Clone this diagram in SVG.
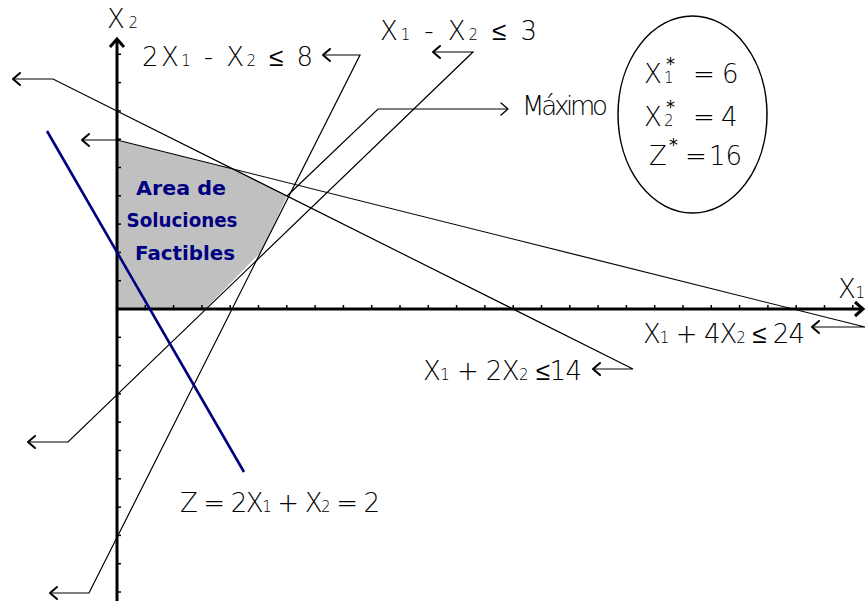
<svg xmlns="http://www.w3.org/2000/svg" width="866" height="601" viewBox="0 0 866 601">
<style>
.lbl{font-family:"DejaVu Sans","Liberation Sans",sans-serif;font-weight:200;font-size:26px;fill:#000}
.sub{font-size:15px}
.star{font-size:18px;font-weight:normal}
.area{font-family:"DejaVu Sans","Liberation Sans",sans-serif;font-weight:bold;font-size:20px;fill:#000080}
.ln{fill:none;stroke:#000;stroke-width:1.2}
.hd{fill:none;stroke:#000;stroke-width:2;stroke-linecap:round;stroke-linejoin:round}
.ax{fill:none;stroke:#000;stroke-width:3}
.tk{stroke:#000;stroke-width:1.5}
</style>
<rect width="866" height="601" fill="#fff"/>
<g id="feasible-region">
<polygon points="117,309 117,140 230,168 287,196 261,252 205,309" fill="#c0c0c0"/>
<text class="area" x="181" y="195" text-anchor="middle" textLength="90" lengthAdjust="spacingAndGlyphs">Area de</text>
<text class="area" x="182" y="227" text-anchor="middle" textLength="111" lengthAdjust="spacingAndGlyphs">Soluciones</text>
<text class="area" x="185" y="260" text-anchor="middle" textLength="100" lengthAdjust="spacingAndGlyphs">Factibles</text>
</g>
<g id="axes">
<line class="ax" x1="117" y1="40" x2="117" y2="601"/>
<line class="ax" x1="117" y1="309" x2="862" y2="309"/>
<polyline class="ax" points="110,47 117,39 124,47"/>
<polyline class="ax" points="855,302 863,309 855,316"/>
<g class="tk">
<line x1="117" y1="280.7" x2="121" y2="280.7"/><line x1="117" y1="252.4" x2="121" y2="252.4"/><line x1="117" y1="224.1" x2="121" y2="224.1"/><line x1="117" y1="195.8" x2="121" y2="195.8"/><line x1="117" y1="167.5" x2="121" y2="167.5"/><line x1="117" y1="139.2" x2="121" y2="139.2"/><line x1="117" y1="110.9" x2="121" y2="110.9"/><line x1="117" y1="82.6" x2="121" y2="82.6"/><line x1="117" y1="54.3" x2="121" y2="54.3"/>
<line x1="117" y1="337.3" x2="121" y2="337.3"/><line x1="117" y1="365.6" x2="121" y2="365.6"/><line x1="117" y1="393.9" x2="121" y2="393.9"/><line x1="117" y1="422.2" x2="121" y2="422.2"/><line x1="117" y1="450.5" x2="121" y2="450.5"/><line x1="117" y1="478.8" x2="121" y2="478.8"/><line x1="117" y1="507.1" x2="121" y2="507.1"/><line x1="117" y1="535.4" x2="121" y2="535.4"/><line x1="117" y1="563.7" x2="121" y2="563.7"/><line x1="117" y1="592" x2="121" y2="592"/>
<line x1="145.3" y1="305" x2="145.3" y2="309"/><line x1="173.6" y1="305" x2="173.6" y2="309"/><line x1="201.9" y1="305" x2="201.9" y2="309"/><line x1="230.2" y1="305" x2="230.2" y2="309"/><line x1="258.5" y1="305" x2="258.5" y2="309"/><line x1="286.8" y1="305" x2="286.8" y2="309"/><line x1="315.1" y1="305" x2="315.1" y2="309"/><line x1="343.4" y1="305" x2="343.4" y2="309"/><line x1="371.7" y1="305" x2="371.7" y2="309"/><line x1="400" y1="305" x2="400" y2="309"/><line x1="428.3" y1="305" x2="428.3" y2="309"/><line x1="456.6" y1="305" x2="456.6" y2="309"/><line x1="484.9" y1="305" x2="484.9" y2="309"/><line x1="513.2" y1="305" x2="513.2" y2="309"/><line x1="541.5" y1="305" x2="541.5" y2="309"/><line x1="569.8" y1="305" x2="569.8" y2="309"/><line x1="598.1" y1="305" x2="598.1" y2="309"/><line x1="626.4" y1="305" x2="626.4" y2="309"/><line x1="654.7" y1="305" x2="654.7" y2="309"/><line x1="683" y1="305" x2="683" y2="309"/><line x1="711.3" y1="305" x2="711.3" y2="309"/><line x1="739.6" y1="305" x2="739.6" y2="309"/><line x1="767.9" y1="305" x2="767.9" y2="309"/><line x1="796.2" y1="305" x2="796.2" y2="309"/><line x1="824.5" y1="305" x2="824.5" y2="309"/><line x1="852.8" y1="305" x2="852.8" y2="309"/>
</g>
<text class="lbl" x="107" y="28" textLength="31" lengthAdjust="spacing">X<tspan class="sub">2</tspan></text>
<text class="lbl" x="838" y="298" textLength="27" lengthAdjust="spacing">X<tspan class="sub">1</tspan></text>
</g>
<g id="connectors">
<polyline class="ln" points="13,79 53,79 633,369 593,369"/>
<polyline class="hd" points="20,73 13,79 20,85"/>
<polyline class="hd" points="600,363 593,369 600,375"/>
<polyline class="ln" points="82,140 117,140 865,327 812,327"/>
<polyline class="hd" points="89,134 82,140 89,146"/>
<polyline class="hd" points="819,321 812,327 819,333"/>
<polyline class="ln" points="50,593 89,593 360,55 323,55"/>
<polyline class="hd" points="57,587 50,593 57,599"/>
<polyline class="hd" points="330,49 323,55 330,61"/>
<polyline class="ln" points="28,442 68,442 473,52 433,52"/>
<polyline class="hd" points="35,436 28,442 35,448"/>
<polyline class="hd" points="440,46 433,52 440,58"/>
<polyline class="ln" points="287,196 378,109 508,109"/>
<polyline class="hd" points="501,103 508,109 501,115" style="stroke-width:1.3"/>
<line x1="47" y1="131" x2="244" y2="472" stroke="#000080" stroke-width="2.6"/>
</g>
<g id="labels">
<text class="lbl" x="142" y="66" textLength="171" lengthAdjust="spacing">2X<tspan class="sub">1</tspan> - X<tspan class="sub">2</tspan> ≤ 8</text>
<text class="lbl" x="380" y="40" textLength="157" lengthAdjust="spacing">X<tspan class="sub">1</tspan> - X<tspan class="sub">2</tspan> ≤ 3</text>
<text class="lbl" x="522" y="115" textLength="86" lengthAdjust="spacing">Máximo</text>
<text class="lbl" x="643" y="343" textLength="162" lengthAdjust="spacing">X<tspan class="sub">1</tspan> + 4X<tspan class="sub">2</tspan> ≤ 24</text>
<text class="lbl" x="423" y="380" textLength="159" lengthAdjust="spacing">X<tspan class="sub">1</tspan> + 2X<tspan class="sub">2</tspan> ≤14</text>
<text class="lbl" x="180" y="512" textLength="200" lengthAdjust="spacing">Z = 2X<tspan class="sub">1</tspan> + X<tspan class="sub">2</tspan> = 2</text>
</g>
<g id="optimum">
<ellipse cx="692.5" cy="114.5" rx="74.5" ry="98.5" fill="none" stroke="#000" stroke-width="1.5"/>
<text class="lbl" y="83"><tspan x="644">X</tspan><tspan x="664" class="sub">1</tspan><tspan x="666" dy="-13" class="star">*</tspan><tspan x="693" dy="13">=</tspan><tspan x="722">6</tspan></text>
<text class="lbl" y="126"><tspan x="644">X</tspan><tspan x="664" class="sub">2</tspan><tspan x="666" dy="-13" class="star">*</tspan><tspan x="693" dy="13">=</tspan><tspan x="721">4</tspan></text>
<text class="lbl" y="165"><tspan x="649">Z</tspan><tspan x="669" dy="-14" class="star">*</tspan><tspan x="685" dy="14">=</tspan><tspan x="709">16</tspan></text>
</g>
</svg>
